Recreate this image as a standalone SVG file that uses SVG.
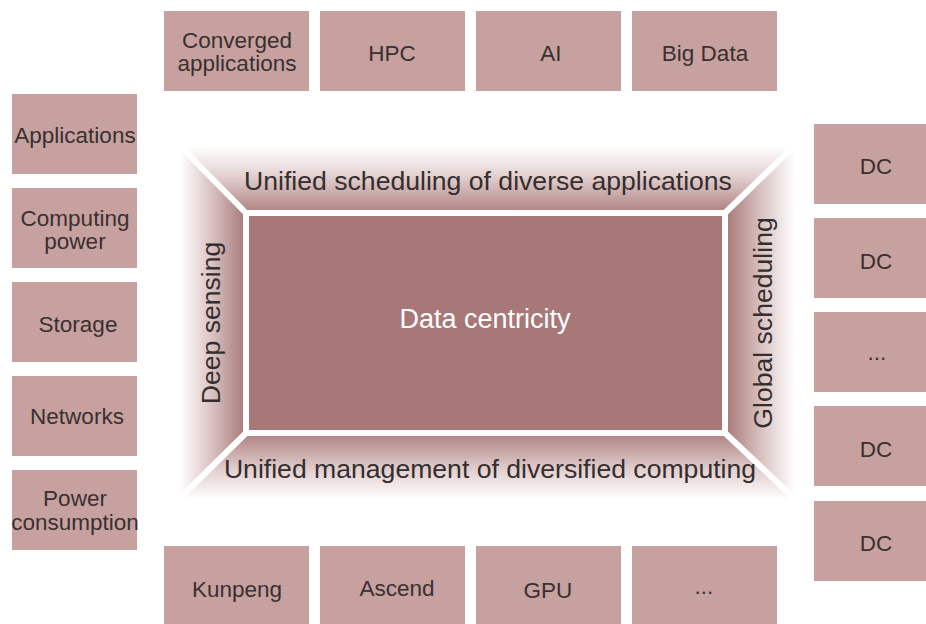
<svg xmlns="http://www.w3.org/2000/svg" width="926" height="624" viewBox="0 0 926 624">
  <style>
    .box { fill: #c6a19f; }
    .lbl { font-family: "Liberation Sans", Arial, sans-serif; font-size: 22.5px; fill: #3a3030; text-anchor: middle; }
    .band-t { font-family: "Liberation Sans", Arial, sans-serif; font-size: 26.6px; fill: #352e2e; text-anchor: middle; }
    .core-t { font-family: "Liberation Sans", Arial, sans-serif; font-size: 27px; fill: #ffffff; text-anchor: middle; }
    .sep { stroke: #ffffff; stroke-width: 6; fill: none; }
  </style>
  <defs>
    <linearGradient id="gTop" x1="0" y1="147" x2="0" y2="213" gradientUnits="userSpaceOnUse">
      <stop offset="0" stop-color="#ffffff"/>
      <stop offset="0.45" stop-color="#e2cfcf"/>
      <stop offset="1" stop-color="#ad8080"/>
    </linearGradient>
    <linearGradient id="gBot" x1="0" y1="500" x2="0" y2="433" gradientUnits="userSpaceOnUse">
      <stop offset="0" stop-color="#ffffff"/>
      <stop offset="0.45" stop-color="#e2cfcf"/>
      <stop offset="1" stop-color="#ad8080"/>
    </linearGradient>
    <linearGradient id="gLeft" x1="180" y1="0" x2="246" y2="0" gradientUnits="userSpaceOnUse">
      <stop offset="0" stop-color="#ffffff"/>
      <stop offset="0.45" stop-color="#dcc6c6"/>
      <stop offset="1" stop-color="#a77777"/>
    </linearGradient>
    <linearGradient id="gRight" x1="795" y1="0" x2="725" y2="0" gradientUnits="userSpaceOnUse">
      <stop offset="0" stop-color="#ffffff"/>
      <stop offset="0.45" stop-color="#dcc6c6"/>
      <stop offset="1" stop-color="#a77777"/>
    </linearGradient>
  </defs>

  <rect width="926" height="624" fill="#ffffff"/>

  <!-- central frame: four bands around the core -->
  <g id="frame">
    <polygon points="180,147 795,147 725,213 246,213" fill="url(#gTop)"/>
    <polygon points="180,500 795,500 725,433 246,433" fill="url(#gBot)"/>
    <polygon points="180,147 246,213 246,433 180,500" fill="url(#gLeft)"/>
    <polygon points="795,147 725,213 725,433 795,500" fill="url(#gRight)"/>
    <rect x="246" y="213" width="479" height="220" fill="#a87878"/>
    <rect x="246" y="213" width="479" height="220" class="sep"/>
    <line x1="180" y1="146" x2="246" y2="213" class="sep"/>
    <line x1="794" y1="146" x2="725" y2="213" class="sep"/>
    <line x1="180" y1="498" x2="246" y2="433" class="sep"/>
    <line x1="794" y1="498" x2="725" y2="433" class="sep"/>
  </g>
  <g id="band-top"><text class="band-t" x="488" y="190">Unified scheduling of diverse applications</text></g>
  <g id="band-bottom"><text class="band-t" x="490" y="478">Unified management of diversified computing</text></g>
  <g id="band-left"><text class="band-t" transform="translate(220,323) rotate(-90)">Deep sensing</text></g>
  <g id="band-right"><text class="band-t" transform="translate(772,323) rotate(-90)">Global scheduling</text></g>
  <g id="core"><text class="core-t" x="485" y="328">Data centricity</text></g>

  <!-- top row -->
  <g id="converged"><rect class="box" x="164" y="11" width="145" height="80"/><text class="lbl" x="237" y="48">Converged</text><text class="lbl" x="237" y="71">applications</text></g>
  <g id="hpc"><rect class="box" x="320" y="11" width="145" height="80"/><text class="lbl" x="392" y="61">HPC</text></g>
  <g id="ai"><rect class="box" x="476" y="11" width="145" height="80"/><text class="lbl" x="551" y="61">AI</text></g>
  <g id="bigdata"><rect class="box" x="632" y="11" width="145" height="80"/><text class="lbl" x="705" y="61">Big Data</text></g>

  <!-- left column -->
  <g id="applications"><rect class="box" x="12" y="94" width="125" height="80"/><text class="lbl" x="75" y="143">Applications</text></g>
  <g id="computing"><rect class="box" x="12" y="188" width="125" height="80"/><text class="lbl" x="75" y="226">Computing</text><text class="lbl" x="75" y="249">power</text></g>
  <g id="storage"><rect class="box" x="12" y="282" width="125" height="80"/><text class="lbl" x="78" y="332">Storage</text></g>
  <g id="networks"><rect class="box" x="12" y="376" width="125" height="80"/><text class="lbl" x="77" y="424">Networks</text></g>
  <g id="power"><rect class="box" x="12" y="470" width="125" height="80"/><text class="lbl" x="75" y="506">Power</text><text class="lbl" x="75" y="530">consumption</text></g>

  <!-- right column -->
  <g id="dc1"><rect class="box" x="814" y="124" width="112" height="80"/><text class="lbl" x="876" y="174">DC</text></g>
  <g id="dc2"><rect class="box" x="814" y="218" width="112" height="80"/><text class="lbl" x="876" y="269">DC</text></g>
  <g id="dc3"><rect class="box" x="814" y="312" width="112" height="80"/><text class="lbl" x="877" y="360">...</text></g>
  <g id="dc4"><rect class="box" x="814" y="406" width="112" height="80"/><text class="lbl" x="876" y="457">DC</text></g>
  <g id="dc5"><rect class="box" x="814" y="501" width="112" height="80"/><text class="lbl" x="876" y="551">DC</text></g>

  <!-- bottom row -->
  <g id="kunpeng"><rect class="box" x="164" y="546" width="145" height="78"/><text class="lbl" x="237" y="597">Kunpeng</text></g>
  <g id="ascend"><rect class="box" x="320" y="546" width="145" height="78"/><text class="lbl" x="397" y="596">Ascend</text></g>
  <g id="gpu"><rect class="box" x="476" y="546" width="145" height="78"/><text class="lbl" x="548" y="598">GPU</text></g>
  <g id="more"><rect class="box" x="632" y="546" width="145" height="78"/><text class="lbl" x="704" y="594">...</text></g>

  <!-- no connectors in this layout -->
  <g id="connectors"/>
</svg>
